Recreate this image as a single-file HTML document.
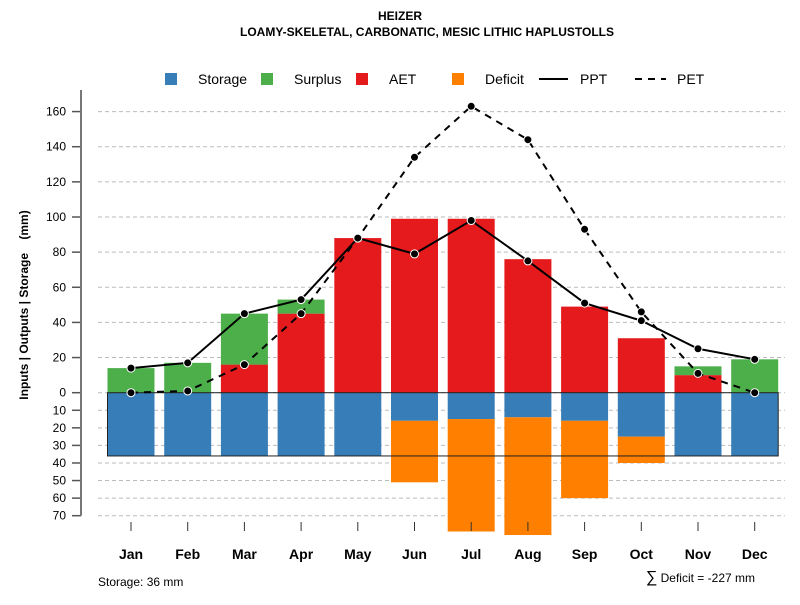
<!DOCTYPE html>
<html><head><meta charset="utf-8"><style>
body{margin:0;background:#fff}
svg{font-family:"Liberation Sans",sans-serif}
</style></head><body>
<svg id="c" width="800" height="600" xmlns="http://www.w3.org/2000/svg">
<text x="400" y="20" text-anchor="middle" font-size="12" font-weight="bold">HEIZER</text>
<text x="427" y="36" text-anchor="middle" font-size="12" font-weight="bold">LOAMY-SKELETAL, CARBONATIC, MESIC LITHIC HAPLUSTOLLS</text>
<g id="legend" font-size="14">
<rect x="165" y="73" width="12" height="12" fill="#377eb8"/><text x="198" y="84">Storage</text>
<rect x="261" y="73" width="12" height="12" fill="#4daf4a"/><text x="294" y="84">Surplus</text>
<rect x="356" y="73" width="12" height="12" fill="#e41a1c"/><text x="389" y="84">AET</text>
<rect x="452" y="73" width="12" height="12" fill="#ff7f00"/><text x="485" y="84">Deficit</text>
<line x1="539" y1="79" x2="568" y2="79" stroke="#000" stroke-width="2"/><text x="580" y="84">PPT</text>
<line x1="635" y1="79" x2="666" y2="79" stroke="#000" stroke-width="2" stroke-dasharray="7,6"/><text x="677" y="84">PET</text>
</g>
<text transform="translate(28,305) rotate(-90)" text-anchor="middle" font-size="12" font-weight="bold" style="white-space:pre">Inputs | Outputs | Storage    (mm)</text>
<text x="98" y="586" font-size="12">Storage: 36 mm</text>
<text x="755" y="582" text-anchor="end" font-size="12"><tspan font-size="16">∑</tspan> Deficit = -227 mm</text>
<g id="grid"></g><g id="bars"></g><g id="lines"></g><g id="axes"></g>
</svg>
<script>
const months=["Jan","Feb","Mar","Apr","May","Jun","Jul","Aug","Sep","Oct","Nov","Dec"];
const ppt=[14,17,45,53,88,79,98,75,51,41,25,19];
const pet=[0,1,16,45,88,134,163,144,93,46,11,0];
const aet=[0,0,16,45,88,99,99,76,49,31,10,0];
const surplus=[14,17,29,8,0,0,0,0,0,0,5,19];
const storage=[36,36,36,36,36,16,15,14,16,25,36,36];
const deficit=[0,0,0,0,0,35,64,67,44,15,0,0];
const posTicks=[0,20,40,60,80,100,120,140,160];
const negTicks=[10,20,30,40,50,60,70];
const storageCap=36;
const NS="http://www.w3.org/2000/svg";
const y0=392.7,k=1.757;
const Y=v=>y0-v*k;
const X=i=>131+i*56.7;
const bw=47;
function mk(g,t,a){const e=document.createElementNS(NS,t);for(const n in a)e.setAttribute(n,a[n]);document.getElementById(g).appendChild(e);return e;}
posTicks.concat(negTicks.map(v=>-v)).forEach(v=>{
 const l=mk('grid','line',{x1:98,x2:785,y1:Y(v),y2:Y(v),stroke:'#bbb','stroke-dasharray':'4,3'});
 
 
 const t=mk('axes','line',{x1:72,x2:81,y1:Y(v),y2:Y(v),stroke:'#555','stroke-width':1.5});
 
 
 const tx=mk('axes','text',{x:66,y:Y(v)+4,'text-anchor':'end','font-size':12});
 tx.textContent=Math.abs(v);
 
 
});
const ax=mk('axes','line',{x1:81,x2:81,y1:90,y2:Y(-70),stroke:'#777','stroke-width':2});


months.forEach((m,i)=>{
 const x=X(i)-bw/2;
 function bar(a,b,c,n){const r=mk('bars','rect',{x:x,y:Math.min(Y(a),Y(b)),width:bw,height:Math.abs(Y(a)-Y(b)),fill:c});
  
  }
 if(storage[i])bar(0,-storage[i],'#377eb8','bar-storage-'+m.toLowerCase());
 if(deficit[i])bar(-storage[i],-storage[i]-deficit[i],'#ff7f00','bar-deficit-'+m.toLowerCase());
 if(aet[i])bar(0,aet[i],'#e41a1c','bar-aet-'+m.toLowerCase());
 if(surplus[i])bar(aet[i],aet[i]+surplus[i],'#4daf4a','bar-surplus-'+m.toLowerCase());
 const t=mk('axes','line',{x1:X(i),x2:X(i),y1:522,y2:531,stroke:'#333'});
 
 
 const tx=mk('axes','text',{x:X(i),y:559,'text-anchor':'middle','font-size':14,'font-weight':'bold'});
 tx.textContent=m;
 
 
});
const box=mk('bars','rect',{x:X(0)-bw/2,y:y0,width:X(11)+bw/2-(X(0)-bw/2),height:storageCap*k,fill:'none',stroke:'#222','stroke-width':1});


function series(arr,dash,name){
 const p=mk('lines','polyline',{points:arr.map((v,i)=>X(i)+','+Y(v)).join(' '),fill:'none',stroke:'#000','stroke-width':2,'stroke-dasharray':dash});
 
 
 arr.forEach((v,i)=>{const c=mk('lines','circle',{cx:X(i),cy:Y(v),r:4,fill:'#000',stroke:'#fff','stroke-width':1});
  
  });
}
series(pet,'7,6','pet');
series(ppt,'none','ppt');
</script>
</body></html>
